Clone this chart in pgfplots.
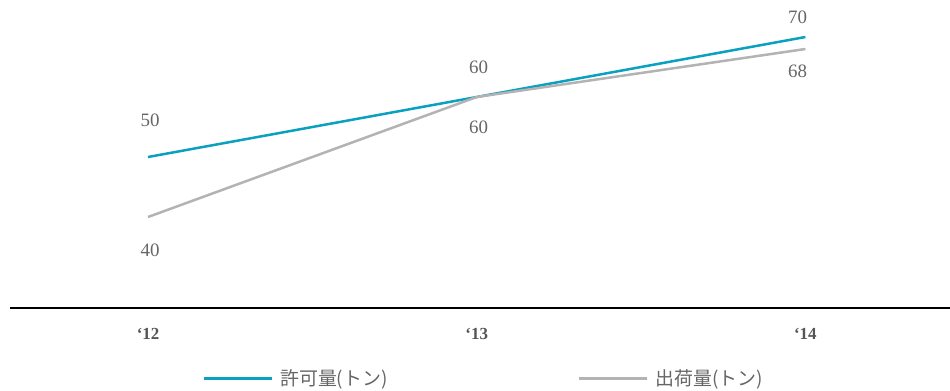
\documentclass[border=0pt]{standalone}
\usepackage{fontspec}
\setmainfont{Liberation Serif}
\newfontfamily\cjk{Noto Sans CJK JP}
\usepackage{pgfplots}
\pgfplotsset{compat=1.18}
\definecolor{cblue}{HTML}{0AA0C0}
\definecolor{cgray}{HTML}{B3B3B3}
\definecolor{ctext}{HTML}{666666}
\definecolor{ctick}{HTML}{555555}
\begin{document}
\begin{tikzpicture}
\useasboundingbox (-10bp,-83bp) rectangle (940bp,308bp);
\begin{axis}[
  at={(0,0)}, anchor=south west,
  scale only axis, width=940bp, height=308bp,
  xmin=-0.42, xmax=2.44, ymin=24.83, ymax=76.17,
  axis x line=bottom, axis y line=none,
  x axis line style={-, black, line width=2.6bp},
  xtick={0,1,2}, xticklabels={‘12,‘13,‘14},
  major tick length=0pt,
  xticklabel style={font=\bfseries\fontsize{17}{17}\selectfont, text=ctick, anchor=center, yshift=-26bp},
  ytick=\empty,
  clip=false,
  legend columns=2,
  legend style={at={(192bp,-70bp)}, anchor=west, draw=none, fill=none, inner sep=0pt,
    nodes={inner sep=0pt, font=\cjk\fontsize{19}{19}\selectfont, text=ctext},
    /tikz/every odd column/.style={column sep=7bp},
    /tikz/every even column/.style={column sep=190bp}},
  legend image code/.code={\draw[#1, line width=3bp] (0bp,0bp) -- (68bp,0bp);},
]
\addplot[cblue, line width=2.5bp] coordinates {(0,50) (1,60) (2,70)};
\addlegendentry{許可量(トン)}
\addplot[cgray, line width=2.5bp] coordinates {(0,40) (1,60) (2,68)};
\addlegendentry{出荷量(トン)}
\begin{scope}[every node/.style={font=\fontsize{19}{19}\selectfont, text=ctext}]
\node at (axis cs:0.006,56.17) {50};
\node at (axis cs:0.006,34.5) {40};
\node at (axis cs:1.006,65) {60};
\node at (axis cs:1.006,55) {60};
\node at (axis cs:1.976,73.33) {70};
\node at (axis cs:1.976,64.33) {68};
\end{scope}
\end{axis}
\end{tikzpicture}
\end{document}
